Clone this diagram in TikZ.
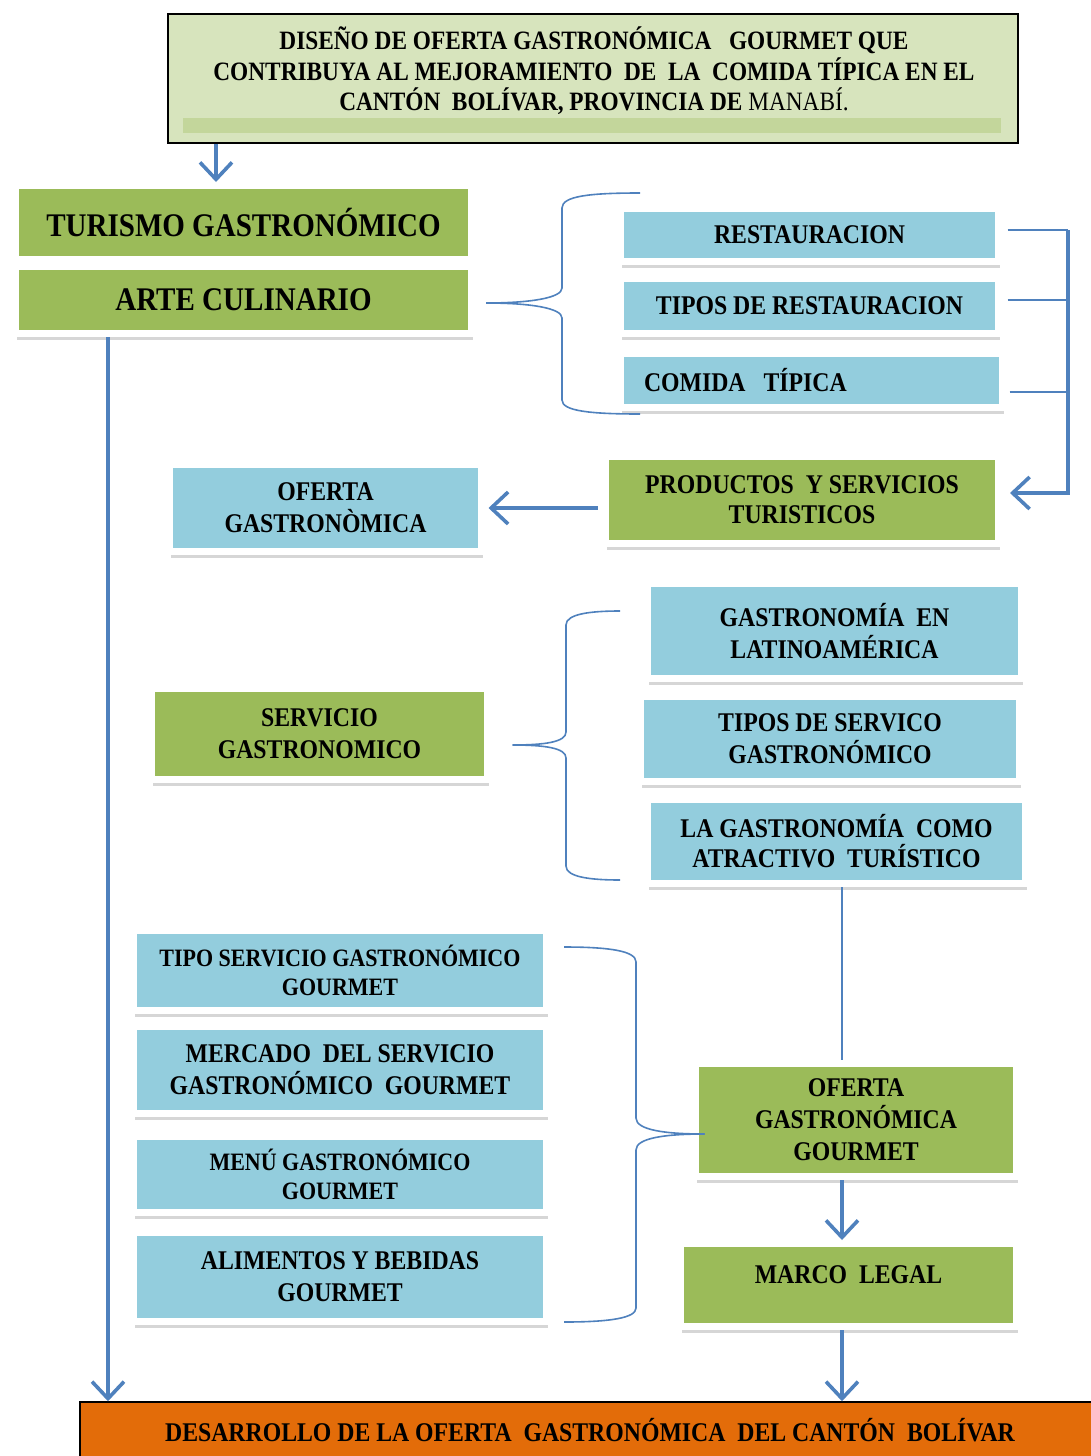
\documentclass[tikz,border=0pt]{standalone}
\usepackage{fontspec}
\setmainfont{Liberation Serif}[FakeStretch=0.88]
\usetikzlibrary{arrows.meta,shadows}
\definecolor{PanelGreen}{HTML}{9BBB59}
\definecolor{PanelBlue}{HTML}{93CDDD}
\definecolor{TitleGreen}{HTML}{D7E4BD}
\definecolor{TitleStripe}{HTML}{C3D69B}
\definecolor{LinkBlue}{HTML}{4F81BD}
\definecolor{PanelOrange}{HTML}{E36C09}
\begin{document}
\begin{tikzpicture}[x=1pt,y=-1pt,
  panel/.style={draw=white,line width=7pt,inner sep=0pt,align=center,
    drop shadow={shadow xshift=1pt,shadow yshift=-6pt,opacity=.16,fill=black},
    font=\fontsize{27}{32}\selectfont\bfseries},
  greenpanel/.style={panel,fill=PanelGreen},
  bluepanel/.style={panel,fill=PanelBlue},
  smalltext/.style={font=\fontsize{25}{29}\selectfont\bfseries},
  bigtext/.style={font=\fontsize{33}{40}\selectfont\bfseries},
  link/.style={draw=LinkBlue,line width=1.6pt},
  arrow/.style={draw=LinkBlue,line width=3.6pt,-{Straight Barb[length=17pt,width=32pt]}}]
  \useasboundingbox (0,0) rectangle (1090,1456);
  % title
  \node[draw=black,line width=1.5pt,fill=TitleGreen,minimum width=850,minimum height=129] (title) at (593,78.5) {};
  \fill[TitleStripe] (183,118) rectangle (1001,133);
  \node[align=center,font=\fontsize{26.5}{30.5}\selectfont\bfseries] (titletext) at (594,71)
    {DISEÑO DE OFERTA GASTRONÓMICA\ \ \ GOURMET QUE\\CONTRIBUYA AL MEJORAMIENTO\ \ DE\ \ LA\ \ COMIDA TÍPICA EN EL\\CANTÓN\ \ BOLÍVAR, PROVINCIA DE {\mdseries MANABÍ.}};
  % left column
  \node[greenpanel,bigtext,minimum width=456,minimum height=74] (turismo) at (243.5,222.5) {TURISMO GASTRONÓMICO};
  \node[greenpanel,bigtext,minimum width=456,minimum height=67] (arte) at (243.5,300) {ARTE CULINARIO};
  \node[bluepanel,minimum width=312,minimum height=87] (ofertagastro) at (325.5,508) {OFERTA\\GASTRONÒMICA};
  \node[greenpanel,minimum width=336,minimum height=91] (servicio) at (319.5,734) {SERVICIO\\GASTRONOMICO};
  \node[bluepanel,smalltext,minimum width=413,minimum height=80] (tiposgourmet) at (340,970.5) {TIPO SERVICIO GASTRONÓMICO\\GOURMET};
  \node[bluepanel,minimum width=413,minimum height=87] (mercado) at (340,1070) {MERCADO\ \ DEL SERVICIO\\GASTRONÓMICO\ \ GOURMET};
  \node[bluepanel,smalltext,minimum width=413,minimum height=76] (menu) at (340,1174.5) {MENÚ GASTRONÓMICO\\GOURMET};
  \node[bluepanel,minimum width=413,minimum height=89] (alimentos) at (340,1277) {ALIMENTOS Y BEBIDAS\\GOURMET};
  % right column
  \node[bluepanel,minimum width=378,minimum height=53] (restauracion) at (809.5,235) {RESTAURACION};
  \node[bluepanel,minimum width=378,minimum height=55] (tiposrest) at (809.5,306) {TIPOS DE RESTAURACION};
  \node[bluepanel,minimum width=382,minimum height=54,text width=335,align=left] (comida) at (811.5,380.5) {COMIDA\ \ TÍPICA};
  \node[greenpanel,minimum width=393,minimum height=87,font=\fontsize{27}{30}\selectfont\bfseries] (productos) at (802,500) {PRODUCTOS\ \ Y SERVICIOS\\TURISTICOS};
  \node[bluepanel,minimum width=374,minimum height=95] (latino) at (834.5,631) {GASTRONOMÍA\ \ EN\\LATINOAMÉRICA};
  \node[bluepanel,minimum width=379,minimum height=85] (tiposserv) at (830,739) {TIPOS DE SERVICO\\GASTRONÓMICO};
  \node[bluepanel,minimum width=378,minimum height=84,font=\fontsize{27}{30}\selectfont\bfseries] (atractivo) at (836.5,841.5) {LA GASTRONOMÍA\ \ COMO\\ATRACTIVO\ \ TURÍSTICO};
  \node[greenpanel,minimum width=321,minimum height=113] (gourmet) at (856,1120) {OFERTA\\GASTRONÓMICA\\GOURMET};
  \node[greenpanel,minimum width=336,minimum height=83,text depth=20pt] (marco) at (848.5,1285) {MARCO\ \ LEGAL};
  % bottom
  \node[draw=black,line width=1.5pt,fill=PanelOrange,minimum width=1020,minimum height=56,
    font=\fontsize{27}{30}\selectfont\bfseries] (desarrollo) at (590,1430)
    {DESARROLLO DE LA OFERTA\ \ GASTRONÓMICA\ \ DEL CANTÓN\ \ BOLÍVAR};
  % connectors
  \coordinate (tx) at (216,0);
  \coordinate (lx) at (108,0);
  \coordinate (gx) at (842,0);
  \coordinate (rb1) at (1068,230);
  \coordinate (rb2) at (1068,300);
  \coordinate (rb3) at (1068,392);
  \coordinate (rb4) at (1068,493);
  \draw[arrow] (title.south -| tx) -- (turismo.north -| tx);
  \draw[arrow] (arte.south -| lx) -- (desarrollo.north -| lx);
  \draw[link] ([xshift=11pt,yshift=-3pt]arte.east) .. controls (530,303) and (562,298) .. (562,288) -- (562,208)
    .. controls (562,196) and (590,193) .. (640,193);
  \draw[link] ([xshift=11pt,yshift=-3pt]arte.east) .. controls (530,303) and (562,308) .. (562,318) -- (562,400)
    .. controls (562,411) and (590,414) .. (640,414);
  \draw[link] ([xshift=5.5pt,yshift=5pt]restauracion.east) -- (rb1);
  \draw[link] ([xshift=5.5pt,yshift=6pt]tiposrest.east) -- (rb2);
  \draw[link] ([xshift=3.5pt,yshift=-11.5pt]comida.east) -- (rb3);
  \draw[arrow] (rb1) -- (rb4) -- ([xshift=8pt,yshift=7pt]productos.east);
  \draw[arrow] ([xshift=-4.5pt,yshift=-8pt]productos.west) -- ([xshift=3.5pt]ofertagastro.east);
  \draw[link] ([xshift=21.5pt,yshift=-11pt]servicio.east) .. controls (545,745) and (566,742) .. (566,732) -- (566,625)
    .. controls (566,614) and (590,611) .. (620,611);
  \draw[link] ([xshift=21.5pt,yshift=-11pt]servicio.east) .. controls (545,745) and (566,748) .. (566,758) -- (566,866)
    .. controls (566,877) and (590,880) .. (620,880);
  \draw[link] (atractivo.south -| gx) -- (gourmet.north -| gx);
  \draw[link] ([xshift=12.5pt,yshift=-14pt]gourmet.west) .. controls (665,1134) and (636,1130) .. (636,1118) -- (636,962)
    .. controls (636,951) and (610,947) .. (564,947);
  \draw[link] ([xshift=12.5pt,yshift=-14pt]gourmet.west) .. controls (665,1134) and (636,1138) .. (636,1150) -- (636,1308)
    .. controls (636,1318) and (610,1322) .. (564,1322);
  \draw[arrow] (gourmet.south -| gx) -- (marco.north -| gx);
  \draw[arrow] (marco.south -| gx) -- (desarrollo.north -| gx);
\end{tikzpicture}
\end{document}
